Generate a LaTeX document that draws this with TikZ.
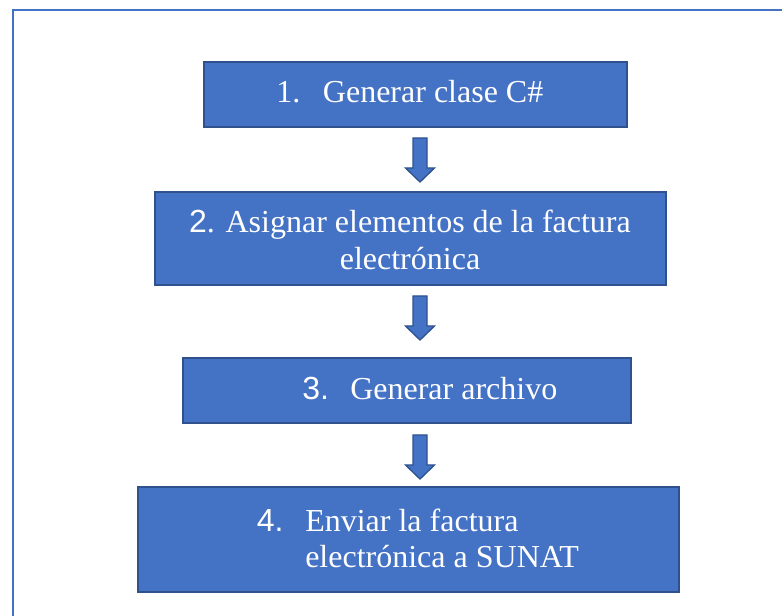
\documentclass[tikz,border=0pt]{standalone}
\usepackage{fontspec}
\setmainfont{Liberation Serif}
\newfontfamily\digitfont{Liberation Sans}
\definecolor{boxfill}{HTML}{4472C4}
\definecolor{boxline}{HTML}{2F528F}
\definecolor{framecol}{HTML}{4472C4}
\tikzset{
  stepbox/.style={draw=boxline, fill=boxfill, line width=1.5pt, rectangle, inner sep=0pt},
  label/.style={text=white, font=\fontsize{24}{27.75}\selectfont, inner sep=0pt, anchor=base west},
  labelc/.style={text=white, font=\fontsize{24}{27.75}\selectfont, inner sep=0pt, anchor=base},
  blockarrow/.style={draw=boxline, fill=boxfill, line width=1pt, line join=miter},
}
\newcommand{\downarrowblock}[2]{%
  % #1 = top-centre coordinate name, #2 = tip coordinate name
  \draw[blockarrow] ($(#1)+(-7,0)$) -- ($(#1)+(7,0)$) -- ($(#2)+(7,-14)$) -- ($(#2)+(14.5,-14)$)
    -- (#2) -- ($(#2)+(-14.5,-14)$) -- ($(#2)+(-7,-14)$) -- cycle;}
\usetikzlibrary{calc}
\begin{document}
\begin{tikzpicture}[x=0.75pt, y=-0.75pt]
\useasboundingbox (0,0) rectangle (782,616);
\fill[white] (0,0) rectangle (782,616);
\draw[framecol, line width=1.5pt] (13,10) rectangle (820,660);

\node[stepbox, minimum width=317.25pt, minimum height=48.75pt] (b1) at (415.5,94.5) {};
\node[stepbox, minimum width=383.25pt, minimum height=69.75pt] (b2) at (410.5,238.5) {};
\node[stepbox, minimum width=336pt, minimum height=48.75pt] (b3) at (407,390.5) {};
\node[stepbox, minimum width=405.75pt, minimum height=78.75pt] (b4) at (408.5,539.5) {};

% texts
\node[label] (t1n) at (276,103) {1.};
\node[label] (t1) at (322.7,103) {Generar clase C\#};
\node[labelc] (t2a) at (410,233) {{\digitfont 2}. Asignar elementos de la factura};
\node[labelc] (t2b) at (410,270) {electrónica};
\node[label] (t3n) at (302,400) {\digitfont 3.};
\node[label] (t3) at (350,400) {Generar archivo};
\node[label] (t4n) at (256.5,531.7) {\digitfont 4.};
\node[label] (t4a) at (305,531.7) {Enviar la factura};
\node[label] (t4b) at (305,567.7) {electrónica a SUNAT};

% arrows between boxes
\coordinate (a1s) at ($(b1.south)+(4.5,10)$);
\coordinate (a1e) at ($(b2.north)+(9.5,-9)$);
\coordinate (a2s) at ($(b2.south)+(9.5,10)$);
\coordinate (a2e) at ($(b3.north)+(13,-17)$);
\coordinate (a3s) at ($(b3.south)+(13,11)$);
\coordinate (a3e) at ($(b4.north)+(11.5,-7)$);
\path let \p1=(a1s), \p2=(a1e) in coordinate (a1t) at (\x1,\y2);
\path let \p1=(a2s), \p2=(a2e) in coordinate (a2t) at (\x1,\y2);
\path let \p1=(a3s), \p2=(a3e) in coordinate (a3t) at (\x1,\y2);
\downarrowblock{a1s}{a1t}
\downarrowblock{a2s}{a2t}
\downarrowblock{a3s}{a3t}
\end{tikzpicture}
\end{document}
